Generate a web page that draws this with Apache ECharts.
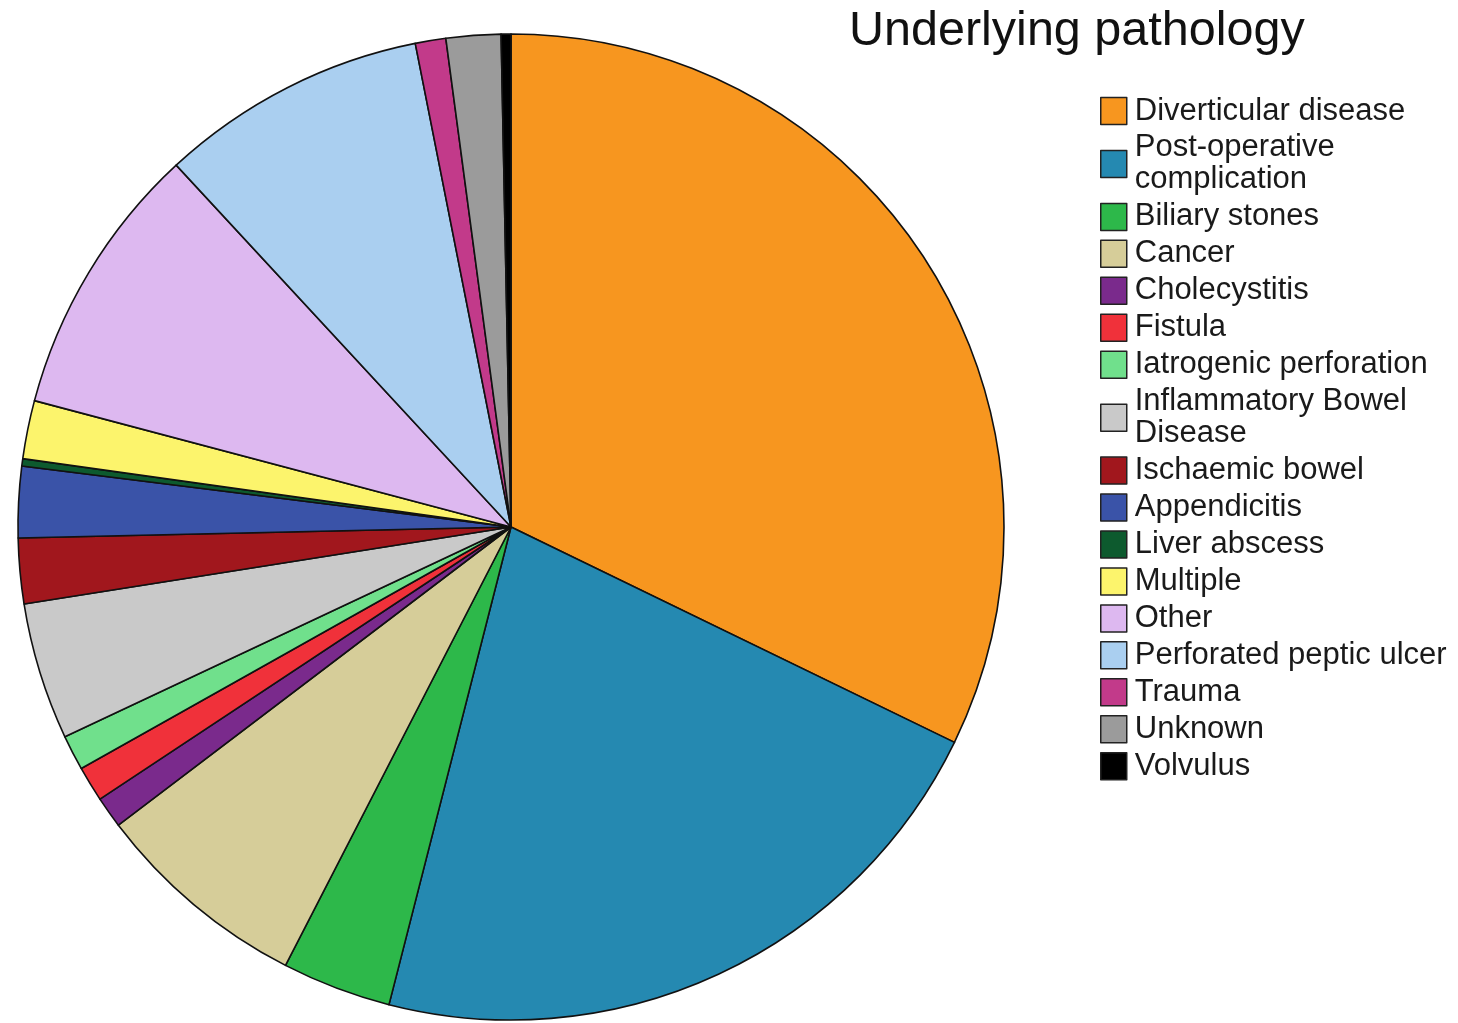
<!DOCTYPE html>
<html>
<head>
<meta charset="utf-8">
<script src="https://cdn.jsdelivr.net/npm/echarts@6/dist/echarts.min.js"></script>
<style>
  html, body { margin: 0; padding: 0; background: #ffffff; }
  #chart { width: 1458px; height: 1023px; }
</style>
</head>
<body>
<div id="chart"></div>
<script>
// Underlying pathology categories (percent of cases)
const categories = [
  'Diverticular disease',
  'Post-operative complication',
  'Biliary stones',
  'Cancer',
  'Cholecystitis',
  'Fistula',
  'Iatrogenic perforation',
  'Inflammatory Bowel Disease',
  'Ischaemic bowel',
  'Appendicitis',
  'Liver abscess',
  'Multiple',
  'Other',
  'Perforated peptic ulcer',
  'Trauma',
  'Unknown',
  'Volvulus'
];
const values = [32.19, 21.78, 3.58, 7.10, 1.03, 1.16, 1.15, 4.50, 2.14, 2.33, 0.24, 1.91, 8.99, 8.77, 1.00, 1.79, 0.32];
const colors = [
  '#f7961f', '#2589b1', '#2db84a', '#d6cd99', '#7a2a8c', '#f0313a',
  '#70e08c', '#c9c9c9', '#a1171d', '#3a53a8', '#0d5a2e', '#fcf46c',
  '#ddb8f0', '#aacff0', '#c23a8a', '#9b9b9b', '#000000'
];
// Legend labels that wrap onto two lines
const wrapped = {
  'Post-operative complication': 'Post-operative\ncomplication',
  'Inflammatory Bowel Disease': 'Inflammatory Bowel\nDisease'
};

const chart = echarts.init(document.getElementById('chart'));
chart.setOption({
  animation: false,
  backgroundColor: '#ffffff',
  title: {
    text: 'Underlying pathology',
    left: 844,
    top: 2,
    textStyle: {
      fontFamily: 'Liberation Sans, Arial, sans-serif',
      fontSize: 48.5,
      fontWeight: 'normal',
      color: '#111111'
    }
  },
  legend: {
    orient: 'vertical',
    left: 1095,
    top: 90,
    itemWidth: 26,
    itemHeight: 27,
    itemGap: 4.95,
    icon: 'rect',
    data: categories,
    itemStyle: { borderColor: '#222222', borderWidth: 1.5 },
    formatter: name => wrapped[name] || name,
    textStyle: {
      fontFamily: 'Liberation Sans, Arial, sans-serif',
      fontSize: 31,
      lineHeight: 32,
      color: '#1a1a1a',
      padding: [0, 0, 0, 3]
    }
  },
  series: [{
    type: 'pie',
    center: [511, 527],
    radius: [0, 493],
    startAngle: 90,
    clockwise: true,
    label: { show: false },
    labelLine: { show: false },
    emphasis: { disabled: true },
    itemStyle: { borderColor: '#111111', borderWidth: 1.6 },
    data: categories.map((name, i) => ({
      name: name,
      value: values[i],
      itemStyle: { color: colors[i] }
    }))
  }]
});
</script>
</body>
</html>
